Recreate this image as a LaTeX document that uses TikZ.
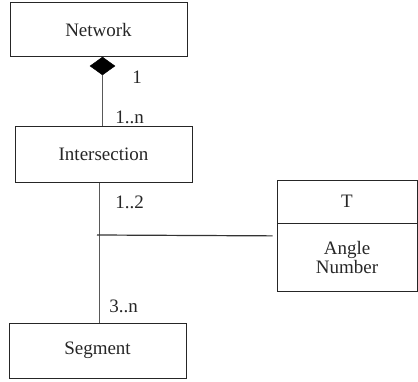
\documentclass[tikz,border=0pt]{standalone}
\usepackage{fontspec}
\newfontfamily\serf{Liberation Serif}
\usetikzlibrary{shapes.geometric}
\begin{document}
\begin{tikzpicture}[x=1pt,y=1pt,
  cls/.style={draw=black!85, line width=1pt, minimum width=177pt, minimum height=55pt, inner sep=0pt, text=black!85, font=\serf\fontsize{19}{22}\selectfont},
  attr/.style={draw=black!85, line width=0.8pt, minimum width=140pt, inner sep=0pt, text=black!85, font=\serf\fontsize{19}{22}\selectfont, align=center},
  conn/.style={draw=black!65, line width=1.5pt},
  mult/.style={inner sep=0pt, text=black!85, font=\serf\fontsize{19}{22}\selectfont}]
\useasboundingbox (0,0) rectangle (418,381);
\node[cls, minimum height=54pt] (net) at (98.5,351) {Network};
\node[cls] (inter) at (103.5,226.5) {Intersection};
\node[cls] (seg) at (97.5,30.5) {Segment};
\node[attr, minimum height=43pt] (tT) at (347,179.5) {T};
\node[attr, minimum height=68pt, anchor=north] (tA) at (tT.south) {Angle\\[-3pt]Number};
\node[diamond, fill=black, draw=black, inner sep=0pt, minimum width=25pt, minimum height=18pt] (dia) at (102.5,315) {};
\draw[conn] (dia.south) -- (dia.south |- inter.north);
\coordinate (top2) at (99.3,198.5);
\coordinate (junc) at (97,146);
\coordinate (tend) at ([yshift=-12.5pt]tT.south west);
\draw[conn] (top2) -- (top2 |- seg.north);
\draw[line width=1.2pt, draw=black!80, shorten >=4pt] (junc) -- (tend);
\node[mult] (m1) at (137,304) {1};
\node[mult] (m1n) at (129.5,264) {1..n};
\node[mult] (m12) at (129.5,179) {1..2};
\node[mult] (m3n) at (123.5,75) {3..n};
\end{tikzpicture}
\end{document}
